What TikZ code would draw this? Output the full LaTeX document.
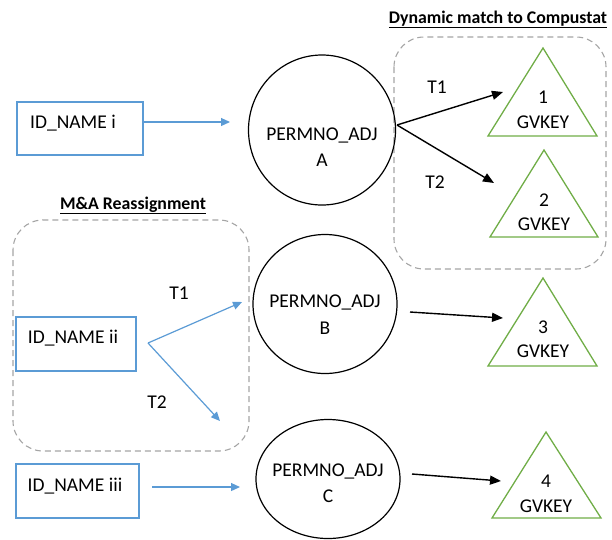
\documentclass[tikz,border=0pt]{standalone}
\usepackage{fontspec}
\setmainfont{Carlito}
\usetikzlibrary{arrows.meta,shapes.geometric}
\definecolor{mblue}{HTML}{5B9BD5}
\definecolor{mgreen}{HTML}{70AD47}
\definecolor{mgray}{HTML}{A5A5A5}
\begin{document}
\begin{tikzpicture}[x=1pt,y=-1pt,
  txt/.style={font=\fontsize{19.5}{22}\selectfont, inner sep=0pt, anchor=base},
  ttl/.style={font=\bfseries\fontsize{17.8}{20}\selectfont, inner sep=0pt, anchor=base},
  idbox/.style={draw=mblue, line width=1.3pt, inner sep=0pt},
  perm/.style={draw=black, ellipse, line width=1.2pt, inner sep=0pt},
  keytri/.style={draw=mgreen, line width=1.3pt, line join=miter},
  grp/.style={draw=mgray, dash pattern=on 6pt off 4pt, rounded corners=30pt, line width=1.1pt},
  barrow/.style={draw=mblue, line width=1.2pt, -{Triangle[length=9pt,width=8pt]}},
  karrow/.style={draw=black, line width=1.4pt, -{Triangle[length=11pt,width=9pt]}}
]
\useasboundingbox (0,0) rectangle (612,539);

% groups
\draw[grp] (394,37) rectangle (606,269);
\draw[grp] (13,220) rectangle (249,451);
\node[ttl] (ttlA) at (498,23) {\underline{Dynamic match to Compustat}};
\node[ttl] (ttlB) at (133,209) {\underline{M\&A Reassignment}};

% ID boxes
\node[idbox, minimum width=126pt, minimum height=53pt] (idi) at (80,128.5) {};
\node[idbox, minimum width=120pt, minimum height=54pt] (idii) at (76,344) {};
\node[idbox, minimum width=123pt, minimum height=54pt] (idiii) at (77.5,491) {};
\node[txt] (idit) at (73,128.5) {ID\_NAME i};
\node[txt] (idiit) at (73,343.5) {ID\_NAME ii};
\node[txt] (idiiit) at (75,491.5) {ID\_NAME iii};

% PERMNO ellipses
\node[perm, minimum width=147pt, minimum height=150pt] (pA) at (322,130) {};
\node[perm, minimum width=144pt, minimum height=139pt] (pB) at (325,304) {};
\node[perm, minimum width=144pt, minimum height=119pt] (pC) at (328,479) {};
\node[txt] (pAt) at (322,140.5) {PERMNO\_ADJ};
\node[txt] (pAl) at (322,166.5) {A};
\node[txt] (pBt) at (325,307.5) {PERMNO\_ADJ};
\node[txt] (pBl) at (325,334.5) {B};
\node[txt] (pCt) at (328,476.5) {PERMNO\_ADJ};
\node[txt] (pCl) at (328,502.5) {C};

% GVKEY triangles
\draw[keytri] (543,48) -- (597,136) -- (488,136) -- cycle;
\draw[keytri] (544,150) -- (598,237) -- (490,237) -- cycle;
\draw[keytri] (543,278) -- (597,366) -- (488,366) -- cycle;
\draw[keytri] (546,432) -- (601,518) -- (492,518) -- cycle;
\node[txt] (k1n) at (543,103.5) {1};
\node[txt] (k1t) at (543,128.5) {GVKEY};
\node[txt] (k2n) at (544,206.5) {2};
\node[txt] (k2t) at (544,230.5) {GVKEY};
\node[txt] (k3n) at (543,333.5) {3};
\node[txt] (k3t) at (543,357.5) {GVKEY};
\node[txt] (k4n) at (546,487.5) {4};
\node[txt] (k4t) at (546,512.5) {GVKEY};

% connector end points
\coordinate (idiE) at (143,122);
\coordinate (pAW) at (230,122);
\coordinate (idiiE) at (148,343);
\coordinate (pBW) at (242,302);
\coordinate (pCN) at (220,421);
\coordinate (idiiiE) at (152,487);
\coordinate (pCW) at (240,487);
\coordinate (pAE) at (397,125);
\coordinate (k1W) at (503,92);
\coordinate (k2W) at (494,183);
\coordinate (pBE) at (410,312);
\coordinate (k3W) at (503,318);
\coordinate (pCE) at (412,474);
\coordinate (k4W) at (501,481);

\draw[barrow] (idiE) -- (pAW);
\draw[barrow] (idiiE) -- (pBW);
\draw[barrow] (idiiE) -- (pCN);
\draw[barrow] (idiiiE) -- (pCW);
\draw[karrow] (pAE) -- (k1W);
\draw[karrow] (pAE) -- (k2W);
\draw[karrow] (pBE) -- (k3W);
\draw[karrow] (pCE) -- (k4W);

% labels
\node[txt] (lA1) at (437,93.5) {T1};
\node[txt] (lA2) at (435,188.5) {T2};
\node[txt] (lB1) at (179,299.5) {T1};
\node[txt] (lB2) at (157,408.5) {T2};
\end{tikzpicture}
\end{document}
